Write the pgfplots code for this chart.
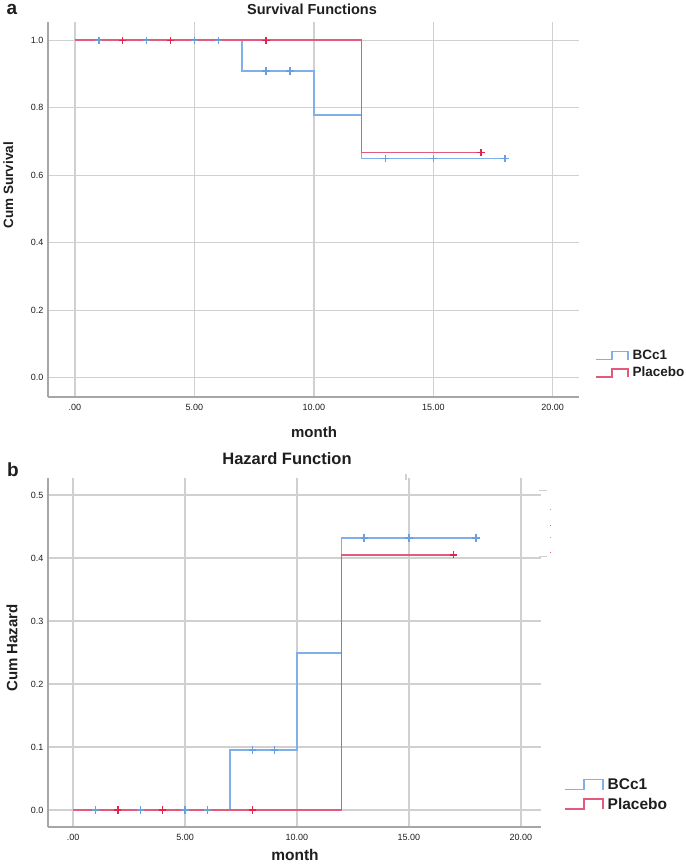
\documentclass[border=0pt]{standalone}
\usepackage{fontspec}
\setmainfont{Liberation Sans}
\usepackage{pgfplots}
\pgfplotsset{compat=1.18}
\definecolor{kmblue}{HTML}{7FB0EA}
\definecolor{kmred}{HTML}{E45A7C}
\definecolor{kmbluemk}{HTML}{6A9FE0}
\definecolor{kmredmk}{HTML}{E0244C}
\definecolor{gridgray}{HTML}{D0D0D0}
\definecolor{axisgray}{HTML}{A6A6A6}
\definecolor{ink}{HTML}{1E1E1E}

\pgfplotsset{
  km/.style={
    scale only axis,
    axis lines*=left,
    axis line style={draw=axisgray, line width=1.7pt, -},
    grid=major,
    grid style={draw=gridgray, line width=1.3pt},
    major tick length=0pt,
    tick style={draw=none},
    ticklabel style={font=\fontsize{9}{10}\selectfont, text=ink},
    xticklabel style={yshift=-4pt},
    yticklabel style={xshift=-1pt},
    /pgf/number format/assume math mode=true,
    /pgf/number format/.cd, fixed, fixed zerofill, precision=1, /pgfplots/.cd,
    xtick={0,5,10,15,20},
    xticklabels={.00,5.00,10.00,15.00,20.00},
    xlabel={month},
    legend cell align=left,
  },
  step/.style={const plot, line width=1.5pt, mark=none},
  cens/.style={only marks, mark=+, mark size=3.6pt, line width=1.3pt, forget plot},
}

\begin{document}
\begin{tikzpicture}[x=1pt, y=1pt]
\useasboundingbox (0,0) rectangle (685,864);

% panel a: survival
\node[font=\bfseries\fontsize{19}{20}\selectfont, text=ink] at (12,855) {a};
\node[font=\bfseries\fontsize{14.5}{16}\selectfont, text=ink] at (312,855) {Survival Functions};
\begin{axis}[km,
  at={(48pt,467pt)}, anchor=south west,
  width=531pt, height=375pt,
  xmin=-1.13, xmax=21.1, ymin=-0.057, ymax=1.054,
  ytick={0,0.2,0.4,0.6,0.8,1.0},
  ylabel={Cum Survival},
  ylabel style={at={(axis description cs:-0.075,0.565)}, anchor=center, font=\bfseries\fontsize{13.5}{15}\selectfont, text=ink},
  xlabel style={at={(axis description cs:0.501,-0.093)}, anchor=center, font=\bfseries\fontsize{15}{16}\selectfont, text=ink},
  legend style={at={(axis description cs:1.0245,0.087)}, anchor=west, draw=none, fill=none,
    font=\bfseries\fontsize{13.5}{15}\selectfont, text=ink, row sep=4pt, column sep=3pt,
    nodes={inner sep=1pt}},
  legend image code/.code={\draw[#1] (0pt,-4pt) -- (16pt,-4pt) -- (16pt,4pt) -- (32pt,4pt) -- (32pt,-4pt);},
]
\addplot[step, color=kmblue] coordinates {(0,1) (7,0.909) (10,0.779) (12,0.649) (18,0.649)};
\addlegendentry{BCc1}
\addplot[step, color=kmred] coordinates {(0,1) (12,0.667) (17,0.667)};
\addlegendentry{Placebo}
\addplot[cens, color=kmbluemk] coordinates {(1,1) (3,1) (5,1) (6,1) (8,0.909) (9,0.909) (13,0.649) (15,0.649) (18,0.649)};
\addplot[cens, color=kmredmk] coordinates {(2,1) (4,1) (8,1) (17,0.667)};
\end{axis}

% panel b: hazard
\node[font=\bfseries\fontsize{19}{20}\selectfont, text=ink] at (13,394) {b};
\node[font=\bfseries\fontsize{16.5}{18}\selectfont, text=ink] at (287,405) {Hazard Function};
\begin{axis}[km,
  at={(48pt,37pt)}, anchor=south west,
  width=493pt, height=349pt,
  xmin=-1.12, xmax=20.9, ymin=-0.027, ymax=0.527,
  ytick={0,0.1,0.2,0.3,0.4,0.5},
  ylabel={Cum Hazard},
  ylabel style={at={(axis description cs:-0.073,0.513)}, anchor=center, font=\bfseries\fontsize{15}{16}\selectfont, text=ink},
  xlabel style={at={(axis description cs:0.501,-0.08)}, anchor=center, font=\bfseries\fontsize{15.5}{17}\selectfont, text=ink},
  legend style={at={(axis description cs:1.0406,0.093)}, anchor=west, draw=none, fill=none,
    font=\bfseries\fontsize{15.5}{17}\selectfont, text=ink, row sep=5pt, column sep=3pt,
    nodes={inner sep=1pt}},
  legend image code/.code={\draw[#1] (0pt,-5pt) -- (19pt,-5pt) -- (19pt,5pt) -- (38pt,5pt) -- (38pt,-5pt);},
]
\addplot[step, color=kmblue] coordinates {(0,0) (7,0.0953) (10,0.2494) (12,0.4318) (18,0.4318)};
\addlegendentry{BCc1}
\addplot[step, color=kmred] coordinates {(0,0) (12,0.405) (17,0.405)};
\addlegendentry{Placebo}
\addplot[cens, color=kmbluemk] coordinates {(1,0) (3,0) (5,0) (6,0) (8,0.0953) (9,0.0953) (13,0.4318) (15,0.4318) (18,0.4318)};
\addplot[cens, color=kmredmk] coordinates {(2,0) (4,0) (8,0) (17,0.405)};
\end{axis}

% stray marks left over in the source image
\draw[gridgray, line width=1.2pt] (406,384) -- (406,390);
\draw[gridgray, line width=1pt] (539,373) -- (547,373);
\draw[gridgray, line width=1pt] (539,307) -- (547,307);
\fill[kmblue] (549.5,353.5) rectangle (550.5,354.5);
\fill[kmred] (549.5,337.5) rectangle (550.5,338.5);
\fill[kmblue] (549.5,325.5) rectangle (550.5,326.5);
\fill[kmred] (549.5,310.5) rectangle (550.5,311.5);
\end{tikzpicture}
\end{document}
